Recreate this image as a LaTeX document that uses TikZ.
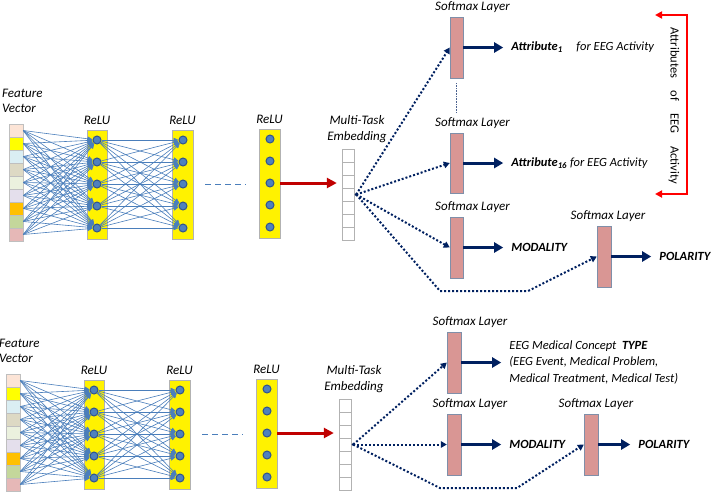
\documentclass[tikz,border=0pt]{standalone}
\usepackage{fontspec}
\setmainfont{Carlito}
\usetikzlibrary{arrows.meta,positioning}

\definecolor{smnavy}{HTML}{002060}
\definecolor{reddark}{HTML}{C00000}
\definecolor{neuronfill}{HTML}{4F81BD}
\definecolor{neuronline}{HTML}{2F528F}
\definecolor{wirecol}{HTML}{4A7EBB}
\definecolor{softfill}{HTML}{D99694}
\definecolor{softline}{HTML}{7F8FA9}
\definecolor{fvA}{HTML}{FCE4D6}
\definecolor{fvB}{HTML}{FFFF00}
\definecolor{fvC}{HTML}{DAEEF3}
\definecolor{fvD}{HTML}{DDD9C4}
\definecolor{fvE}{HTML}{EBF1DE}
\definecolor{fvF}{HTML}{E4DFEC}
\definecolor{fvG}{HTML}{FFC000}
\definecolor{fvH}{HTML}{C4D79B}
\definecolor{fvI}{HTML}{E6B8B7}

\tikzset{
  lbl/.style={font=\itshape\fontsize{13}{15.5}\selectfont, inner sep=1pt},
  outtxt/.style={font=\itshape\fontsize{12.5}{16.5}\selectfont, inner sep=2pt, anchor=west},
  fvcell/.style={draw=black!25, minimum width=14pt, minimum height=13pt, inner sep=0pt},
  mtecell/.style={draw=black!30, fill=white, minimum width=12pt, minimum height=13pt, inner sep=0pt},
  relubar/.style={draw=black!30, fill=yellow, minimum width=20pt, minimum height=109pt, inner sep=0pt},
  neuron/.style={circle, draw=neuronline, fill=neuronfill, line width=1pt, minimum size=8pt, inner sep=0pt},
  wire/.style={draw=wirecol, line width=0.6pt, -{Triangle[length=5pt,width=4.5pt]}},
  dashline/.style={draw=wirecol, line width=1pt, dash pattern=on 6pt off 4pt},
  redarrow/.style={draw=reddark, line width=3pt, -{Triangle[length=10pt,width=10pt]}, shorten >=5pt},
  smbox/.style={draw=softline, fill=softfill, minimum width=13pt, minimum height=61pt, inner sep=0pt},
  navyarrow/.style={draw=smnavy, line width=3pt, -{Triangle[length=9pt,width=10pt]}, shorten >=6pt},
  dotlink/.style={draw=smnavy, line width=2pt, dash pattern=on 2pt off 2pt, -{Triangle[length=6pt,width=6.5pt]}},
}

\begin{document}
\begin{tikzpicture}[x=1pt,y=-1pt]
  \useasboundingbox (0,0) rectangle (711,491);

  % draw both networks (top and bottom)
  \foreach \p/\sx/\sy in {a/0/0, b/-3/250}{
    \begin{scope}[shift={(\sx,\sy)}]
      % feature vector
      \foreach \c [count=\i] in {fvA,fvB,fvC,fvD,fvE,fvF,fvG,fvH,fvI}
        \node[fvcell, fill=\c] (\p-fv\i) at (16,{130.5+13*(\i-1)}) {};
      \node[lbl, align=left, anchor=west] (\p-fvlbl) at (1,101) {Feature\\Vector};

      % relu layers
      \node[relubar] (\p-r1) at (97,184.5) {};
      \node[relubar, minimum width=21pt] (\p-r2) at (182.5,184.5) {};
      \node[relubar, minimum width=21pt] (\p-r3) at (269.5,183.5) {};
      \node[lbl, above=4pt of \p-r1] (\p-r1lbl) {ReLU};
      \node[lbl, above=4pt of \p-r2] (\p-r2lbl) {ReLU};
      \node[lbl, above=4pt of \p-r3] (\p-r3lbl) {ReLU};

      % neurons
      \foreach \k in {1,...,5}{
        \node[neuron] (\p-n1-\k) at (97,{140+22*(\k-1)}) {};
        \node[neuron] (\p-n2-\k) at (183,{140+22*(\k-1)}) {};
        \node[neuron] (\p-n3-\k) at (270,{139+22*(\k-1)}) {};
      }

      % fully connected wires
      \foreach \i in {1,...,9}
        \foreach \k in {1,...,5}
          \draw[wire] (\p-fv\i.east) -- (\p-n1-\k);
      \foreach \j in {1,...,5}
        \foreach \k in {1,...,5}
          \draw[wire] (\p-n1-\j) -- (\p-n2-\k);

      % dashes between hidden layers
      \coordinate (\p-dash1) at (205,184);
      \coordinate (\p-dash2) at (246,184);
      \draw[dashline] (\p-dash1) -- (\p-dash2);

      % multi-task embedding
      \foreach \i in {1,...,7}
        \node[mtecell] (\p-mte\i) at (348,{155.5+13*(\i-1)}) {};
      \node[lbl, align=center] (\p-mtelbl) at (357,129) {Multi-Task\\Embedding};
      \draw[redarrow] (\p-r3.east |- \p-n3-3) -- (\p-mte1.west |- \p-n3-3);

      \coordinate (\p-hub) at ([xshift=2pt]\p-mte4.east);
      \fill[smnavy] (\p-hub) circle (1.6pt);
    \end{scope}
  }

  % top softmax heads
  \node[smbox] (a-sm1) at (456.5,47.5) {};
  \node[smbox, minimum height=60pt] (a-sm2) at (456.5,163) {};
  \node[smbox] (a-sm3) at (456.5,247.5) {};
  \node[smbox, minimum width=14pt] (a-sm4) at (604,256.5) {};
  \foreach \s/\dx in {1/16,2/16,3/16,4/4}
    \node[lbl, above=3pt of a-sm\s, xshift=\dx pt] (a-sm\s lbl) {Softmax Layer};

  \node[outtxt, right=46pt of a-sm1] (a-att1) {\textbf{Attribute\textsubscript{1}}\hspace{1.1em}for EEG Activity};
  \node[outtxt, right=46pt of a-sm2] (a-att16) {\textbf{Attribute\textsubscript{16}} for EEG Activity};
  \node[outtxt, right=46pt of a-sm3] (a-mod) {\textbf{MODALITY}};
  \node[outtxt, right=46pt of a-sm4] (a-pol) {\textbf{POLARITY}};
  \draw[navyarrow] (a-sm1) -- (a-att1);
  \draw[navyarrow] (a-sm2) -- (a-att16);
  \draw[navyarrow] (a-sm3) -- (a-mod);
  \draw[navyarrow] (a-sm4) -- (a-pol);

  \draw[smnavy!70, line width=0.6pt, densely dotted]
    ([yshift=-5pt]a-sm1.south) -- ([yshift=20pt]a-sm2.north);

  % dotted links from the top embedding
  \coordinate (a-bend1) at (440,291);
  \coordinate (a-bend2) at (528,291);
  \draw[dotlink] (a-hub) -- (a-sm1.west);
  \draw[dotlink] (a-hub) -- (a-sm2.west);
  \draw[dotlink] (a-hub) -- (a-sm3.west);
  \draw[dotlink] (a-hub) -- (a-bend1) -- (a-bend2) -- (a-sm4.west);

  % attributes bracket
  \coordinate (a-brtop) at (655,15);
  \coordinate (a-brbot) at (655,194);
  \draw[red, line width=2pt, {Triangle[length=7pt,width=7pt]}-{Triangle[length=7pt,width=7pt]}]
    (a-brtop) -- ++(32,0) |- (a-brbot);
  \node[rotate=-90, font=\fontsize{12.5}{14}\selectfont] (a-brlbl) at (674,106)
    {Attributes\quad of\quad EEG\quad Activity};

  % bottom softmax heads
  \node[smbox, minimum width=14pt] (b-sm1) at (454,362.5) {};
  \node[smbox, minimum width=14pt] (b-sm2) at (454,444.5) {};
  \node[smbox, minimum width=14pt] (b-sm3) at (591,444.5) {};
  \foreach \s/\dx in {1/16,2/16,3/5}
    \node[lbl, above=3pt of b-sm\s, xshift=\dx pt] (b-sm\s lbl) {Softmax Layer};

  \node[outtxt, align=left, right=46pt of b-sm1] (b-type)
    {EEG Medical Concept\ \ \textbf{TYPE}\\(EEG Event, Medical Problem,\\Medical Treatment, Medical Test)};
  \node[outtxt, right=46pt of b-sm2] (b-mod) {\textbf{MODALITY}};
  \node[outtxt, right=38pt of b-sm3] (b-pol) {\textbf{POLARITY}};
  \draw[navyarrow] (b-sm1) -- (b-sm1 -| b-type.west);
  \draw[navyarrow] (b-sm2) -- (b-mod);
  \draw[navyarrow] (b-sm3) -- (b-pol);

  % dotted links from the bottom embedding
  \coordinate (b-bend1) at (440,488);
  \coordinate (b-bend2) at (517,488);
  \draw[dotlink] (b-hub) -- (b-sm1.west);
  \draw[dotlink] (b-hub) -- (b-sm2.west);
  \draw[dotlink] (b-hub) -- (b-bend1) -- (b-bend2) -- (b-sm3.west);
\end{tikzpicture}
\end{document}
